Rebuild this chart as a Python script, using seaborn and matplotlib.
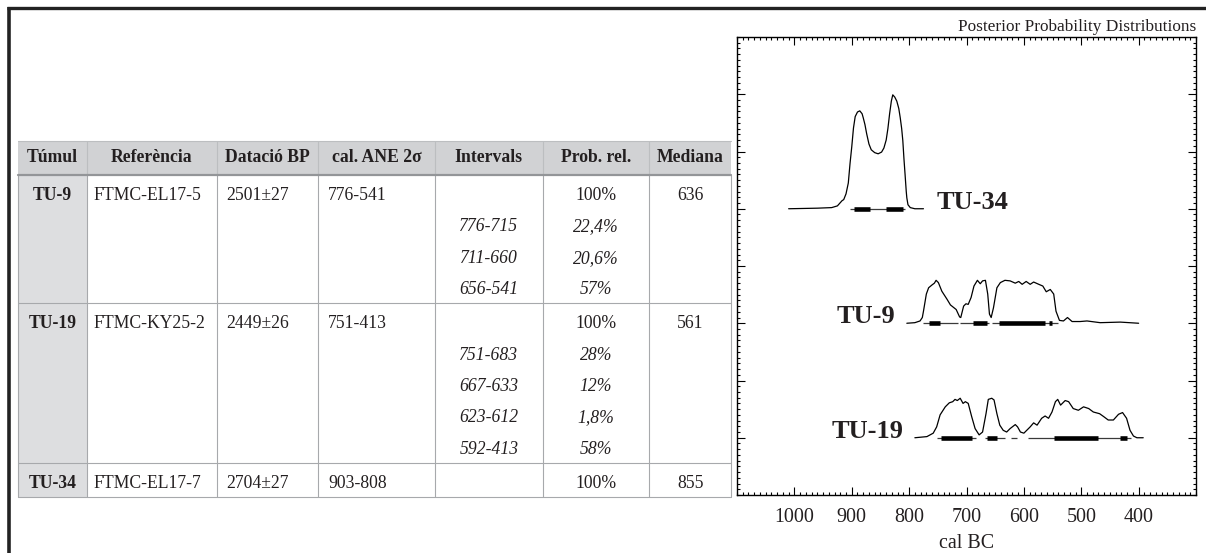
import numpy as np
import pandas as pd
import matplotlib.pyplot as plt
import matplotlib.ticker as mtick
from matplotlib.patches import Rectangle
import seaborn as sns

# ---- table data -------------------------------------------------------------
headers = ["Túmul", "Referència", "Datació BP", "cal. ANE 2σ",
           "Intervals", "Prob. rel.", "Mediana"]
tumuls = ["TU-9", "TU-19", "TU-34"]
lab_refs = ["FTMC-EL17-5", "FTMC-KY25-2", "FTMC-EL17-7"]
bp_ages = ["2501±27", "2449±26", "2704±27"]
cal_2sigma = [(776, 541), (751, 413), (903, 808)]
total_probs = ["100%", "100%", "100%"]
medians = [636, 561, 855]
sub_intervals = [[(776, 715), (711, 660), (656, 541)],
                 [(751, 683), (667, 633), (623, 612), (592, 413)],
                 []]
sub_probs = [["22,4%", "20,6%", "57%"],
             ["28%", "12%", "1,8%", "58%"],
             []]

# ---- posterior distributions (cal BC, relative probability) ----------------
tu34_years = [1010, 960, 935, 925, 917, 914, 910, 906, 903, 900, 897, 894, 890,
              886, 882, 880, 877, 874, 870, 866, 860, 854, 848, 844, 840, 837,
              834, 831, 828.5, 825, 821.5, 818, 815.5, 813, 811, 809, 807, 805,
              804, 802, 798, 790, 775]
tu34_prob = [0, 0.01, 0.02, 0.05, 0.14, 0.16, 0.26, 0.45, 0.79, 1.08, 1.41, 1.61,
             1.69, 1.71, 1.66, 1.59, 1.47, 1.31, 1.13, 1.03, 0.98, 0.96, 0.99,
             1.06, 1.20, 1.40, 1.66, 1.88, 1.99, 1.95, 1.88, 1.75, 1.59, 1.40,
             1.19, 0.87, 0.59, 0.30, 0.19, 0.07, 0.02, 0, 0]

tu9_years = [804, 790, 781, 777, 775, 770, 766, 760, 756, 753, 749, 743, 734, 728,
             723, 718, 712, 710, 705, 701, 697, 692, 687, 681, 676, 672, 667, 663,
             660, 657, 653, 647, 641, 633, 624, 615, 609, 603, 596, 589, 583, 574,
             567, 561, 554, 548, 544, 538, 531, 524, 516, 502, 490, 467, 432, 400]
tu9_prob = [0, 0.01, 0.04, 0.10, 0.21, 0.51, 0.62, 0.67, 0.70, 0.75, 0.71, 0.56,
            0.42, 0.32, 0.28, 0.24, 0.11, 0.10, 0.30, 0.34, 0.33, 0.45, 0.65, 0.75,
            0.69, 0.74, 0.75, 0.51, 0.16, 0.10, 0.27, 0.62, 0.71, 0.75, 0.74, 0.70,
            0.73, 0.68, 0.73, 0.68, 0.72, 0.68, 0.65, 0.55, 0.59, 0.51, 0.21, 0.05,
            0.04, 0.10, 0.03, 0.03, 0.04, 0.01, 0.02, 0]

tu19_years = [790, 769, 758, 752, 746, 737, 730, 724, 720, 716, 711, 706, 702, 697,
              691, 685, 678, 672, 666, 662, 656, 652, 647, 642, 636, 630, 624, 615,
              611, 606, 600, 589, 583, 577, 569, 563, 557, 551, 545, 541, 536, 528,
              522, 514, 505, 496, 487, 479, 468, 461, 453, 444, 435, 428, 421, 415,
              409, 403, 392]
tu19_prob = [0, 0.02, 0.08, 0.19, 0.40, 0.54, 0.61, 0.63, 0.67, 0.65, 0.69, 0.60,
             0.63, 0.60, 0.37, 0.16, 0.05, 0.10, 0.42, 0.67, 0.69, 0.66, 0.42, 0.22,
             0.13, 0.10, 0.16, 0.23, 0.19, 0.10, 0.08, 0.19, 0.26, 0.22, 0.34, 0.38,
             0.34, 0.45, 0.63, 0.67, 0.57, 0.65, 0.63, 0.51, 0.48, 0.54, 0.51, 0.45,
             0.42, 0.37, 0.31, 0.31, 0.41, 0.44, 0.34, 0.13, 0.03, 0, 0]

# 68.2% ranges (thick bars)
one_sigma = {"TU-34": [(896, 868), (840, 811)],
             "TU-9": [(765, 746), (689, 664), (643, 564), (556, 551)],
             "TU-19": [(745, 691), (664, 646), (547, 470), (433, 421)]}

plot_order = ["TU-34", "TU-9", "TU-19"]
curves = {"TU-34": (tu34_years, tu34_prob),
          "TU-9": (tu9_years, tu9_prob),
          "TU-19": (tu19_years, tu19_prob)}
label_side = {"TU-34": "right", "TU-9": "left", "TU-19": "left"}
xtick_years = [1000, 900, 800, 700, 600, 500, 400]

# ---- style -------------------------------------------------------------------
sns.set_theme(style="ticks")
plt.rcParams["font.family"] = ["Liberation Serif", "DejaVu Serif"]
plt.rcParams["axes.edgecolor"] = "black"
plt.rcParams["xtick.color"] = "black"
plt.rcParams["ytick.color"] = "black"
TXT = "#231f20"
HEAD_BG = "#d1d2d4"
TUMUL_BG = "#dddee0"
GRID = "#a7a9ac"
FS = 12.7

fig = plt.figure(figsize=(12.06, 5.53), dpi=100)

# background axes in pixel units: frame + table
bg = fig.add_axes([0, 0, 1, 1])
bg.set_xlim(0, 1206)
bg.set_ylim(553, 0)
bg.axis("off")
bg.plot([7, 1206], [8.3, 8.3], color="#222222", lw=2.4, solid_capstyle="butt")
bg.plot([8.7, 8.7], [7, 553], color="#222222", lw=2.6, solid_capstyle="butt")

x0 = 18.3
col_w = [68.4, 130, 101.6, 116.7, 107.7, 106.6, 81.7]
edges = np.concatenate([[x0], x0 + np.cumsum(col_w)])
centers = (edges[:-1] + edges[1:]) / 2
head_top, head_h = 140.7, 34.3
line_gap, first_off, bottom_off = 31.4, 20.5, 13.6

# header
bg.add_patch(Rectangle((edges[0], head_top), edges[-1] - edges[0], head_h,
                       fc=HEAD_BG, ec="none"))
for j, h in enumerate(headers):
    bg.text(centers[j], head_top + head_h / 2, h, ha="center", va="center",
            fontsize=FS, fontweight="bold", color=TXT)
for e in edges[1:-1]:
    bg.plot([e, e], [head_top, head_top + head_h], color="#bcbec0", lw=0.8)

# body
top = head_top + head_h
for i, t in enumerate(tumuls):
    n = 1 + len(sub_intervals[i])
    h = first_off + line_gap * (n - 1) + bottom_off
    bg.add_patch(Rectangle((edges[0], top), col_w[0], h, fc=TUMUL_BG, ec="none"))
    y = top + first_off
    bg.text(centers[0], y, t, ha="center", va="center", fontsize=FS,
            fontweight="bold", color=TXT)
    bg.text(edges[1] + 7, y, lab_refs[i], ha="left", va="center", fontsize=FS, color=TXT)
    bg.text(edges[2] + 10, y, bp_ages[i], ha="left", va="center", fontsize=FS, color=TXT)
    lo, hi = cal_2sigma[i]
    bg.text(edges[3] + 10, y, f"{lo}-{hi}", ha="left", va="center", fontsize=FS, color=TXT)
    bg.text(centers[5], y, total_probs[i], ha="center", va="center", fontsize=FS, color=TXT)
    bg.text(centers[6], y, str(medians[i]), ha="center", va="center", fontsize=FS, color=TXT)
    for k, ((a, b), p) in enumerate(zip(sub_intervals[i], sub_probs[i])):
        yy = y + line_gap * (k + 1)
        bg.text(centers[4], yy, f"{a}-{b}", ha="center", va="center", fontsize=FS,
                style="italic", color=TXT)
        bg.text(centers[5], yy, p, ha="center", va="center", fontsize=FS,
                style="italic", color=TXT)
    bg.plot([edges[0], edges[-1]], [top + h, top + h], color=GRID, lw=0.8)
    top += h

for e in edges:
    bg.plot([e, e], [head_top + head_h, top], color=GRID, lw=0.8)
bg.plot([edges[0], edges[-1]], [head_top, head_top], color="#bcbec0", lw=0.8)
bg.plot([edges[0], edges[-1]], [head_top + head_h, head_top + head_h], color="#939598", lw=1.6)

# ---- posterior probability plot ---------------------------------------------
ax = fig.add_axes([737 / 1206, 1 - 495 / 553, 459 / 1206, 458 / 553])
n_rows = len(plot_order)
for i, name in enumerate(plot_order):
    base = 2 * (n_rows - 1 - i) + 1
    yrs, prob = curves[name]
    df = pd.DataFrame({"year": yrs, "prob": base + np.array(prob)})
    sns.lineplot(data=df, x="year", y="prob", ax=ax, color="black", lw=0.9,
                 estimator=None, sort=False)
    idx = tumuls.index(name)
    ranges = sub_intervals[idx] if sub_intervals[idx] else [cal_2sigma[idx]]
    for a, b in ranges:
        ax.hlines(base, b, a, color="#3a3a3a", lw=0.9)
    for a, b in one_sigma[name]:
        ax.hlines(base, b, a, color="black", lw=3.3)
    if label_side[name] == "right":
        ax.text(min(yrs) - 22, base, name, ha="left", va="baseline",
                fontsize=19, fontweight="bold", color=TXT)
    else:
        ax.text(max(yrs) + 20, base, name, ha="right", va="baseline",
                fontsize=19, fontweight="bold", color=TXT)

ax.set_xlim(1100, 300)
ax.set_ylim(0, 8)
ax.set_xticks(xtick_years)
ax.set_xticklabels([str(v) for v in xtick_years])
ax.xaxis.set_minor_locator(mtick.MultipleLocator(10))
ax.set_yticks(range(1, 8))
ax.yaxis.set_minor_locator(mtick.MultipleLocator(0.1))
ax.tick_params(which="both", direction="in", top=True, right=True,
               labelleft=False, width=0.8)
ax.tick_params(which="major", length=6, pad=9.5, labelsize=14.4, labelcolor=TXT)
ax.tick_params(which="minor", length=2.2)
for s in ax.spines.values():
    s.set_linewidth(1.0)
ax.set_xlabel("cal BC", fontsize=14.4, color=TXT, labelpad=5)
ax.set_ylabel("")
ax.set_title("Posterior Probability Distributions", loc="right", fontsize=12.4,
             pad=4, color=TXT)

fig.savefig("out.png", dpi=100)
